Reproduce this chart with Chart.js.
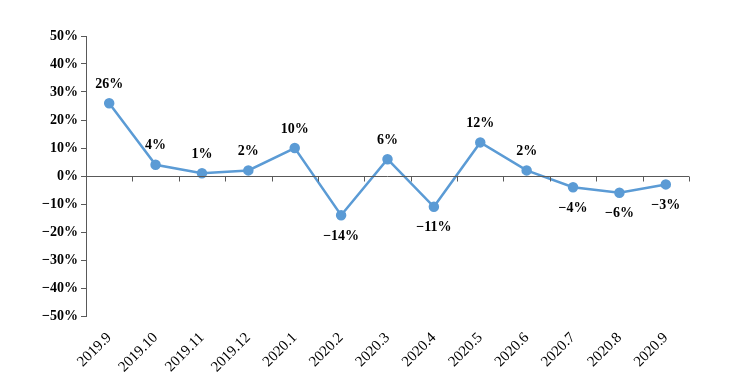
<!DOCTYPE html>
<html>
<head>
<meta charset="utf-8">
<script src="https://cdn.jsdelivr.net/npm/chart.js@4"></script>
<style>
  html, body { margin: 0; padding: 0; background: #fff; }
  #wrap { width: 750px; height: 385px; }
</style>
</head>
<body>
<div id="wrap"><canvas id="c" width="750" height="385"></canvas></div>
<script>
// data
const months = ["2019.9", "2019.10", "2019.11", "2019.12", "2020.1", "2020.2", "2020.3",
  "2020.4", "2020.5", "2020.6", "2020.7", "2020.8", "2020.9"];
const growth = [26, 4, 1, 2, 10, -14, 6, -11, 12, 2, -4, -6, -3];
const yTicks = [-50, -40, -30, -20, -10, 0, 10, 20, 30, 40, 50];

const lineBlue = "#5b9bd5";
const serif = "'Liberation Serif', 'DejaVu Serif', serif";

const fmtPct = (v) => (v < 0 ? "\u2212" + Math.abs(v) : v) + "%";

// zero line with tick marks between categories
const zeroAxis = {
  id: "zeroAxis",
  afterDatasetsDraw(chart) {
    const { ctx, chartArea, scales: { x, y } } = chart;
    const y0 = Math.round(y.getPixelForValue(0)) + 0.5;
    const step = x.getPixelForValue(1) - x.getPixelForValue(0);
    ctx.save();
    ctx.strokeStyle = "#595959";
    ctx.lineWidth = 1;
    ctx.beginPath();
    ctx.moveTo(chartArea.left, y0);
    ctx.lineTo(chartArea.right, y0);
    for (let i = 0; i < months.length; i++) {
      const xp = Math.round(x.getPixelForValue(i) + step / 2) + 0.5;
      ctx.moveTo(xp, y0);
      ctx.lineTo(xp, y0 + 5);
    }
    ctx.stroke();
    ctx.restore();
  },
};

// value labels above / below points
const valueLabels = {
  id: "valueLabels",
  afterDatasetsDraw(chart) {
    const { ctx } = chart;
    const meta = chart.getDatasetMeta(0);
    ctx.save();
    ctx.font = "bold 14px " + serif;
    ctx.fillStyle = "#000";
    ctx.textAlign = "center";
    ctx.textBaseline = "middle";
    meta.data.forEach((pt, i) => {
      const v = growth[i];
      const dy = v >= 0 ? -19 : 21;
      ctx.fillText(fmtPct(v), pt.x, pt.y + dy);
    });
    ctx.restore();
  },
};

new Chart(document.getElementById("c"), {
  type: "line",
  data: {
    labels: months,
    datasets: [{
      data: growth,
      borderColor: lineBlue,
      backgroundColor: lineBlue,
      borderWidth: 2.5,
      pointRadius: 4,
      pointHoverRadius: 4,
      tension: 0,
    }],
  },
  options: {
    responsive: false,
    animation: false,
    layout: { padding: { top: 36, right: 61, left: 0, bottom: 0 } },
    plugins: { legend: { display: false }, tooltip: { enabled: false } },
    scales: {
      x: {
        offset: true,
        grid: { display: false },
        border: { display: false },
        ticks: {
          color: "#000",
          font: { family: serif, size: 15 },
          maxRotation: 45,
          minRotation: 45,
          padding: 5,
          autoSkip: false,
        },
        afterFit(scale) { scale.height = 69; },
      },
      y: {
        min: -50,
        max: 50,
        afterBuildTicks(scale) { scale.ticks = yTicks.map((v) => ({ value: v })); },
        grid: { drawOnChartArea: false, tickLength: 5, color: "#595959" },
        border: { display: true, color: "#595959", width: 1 },
        ticks: {
          color: "#000",
          font: { family: serif, size: 14, weight: "bold" },
          padding: 3,
          callback: (v) => fmtPct(v),
        },
        afterFit(scale) { scale.width = 86; },
      },
    },
  },
  plugins: [zeroAxis, valueLabels],
});
</script>
</body>
</html>
